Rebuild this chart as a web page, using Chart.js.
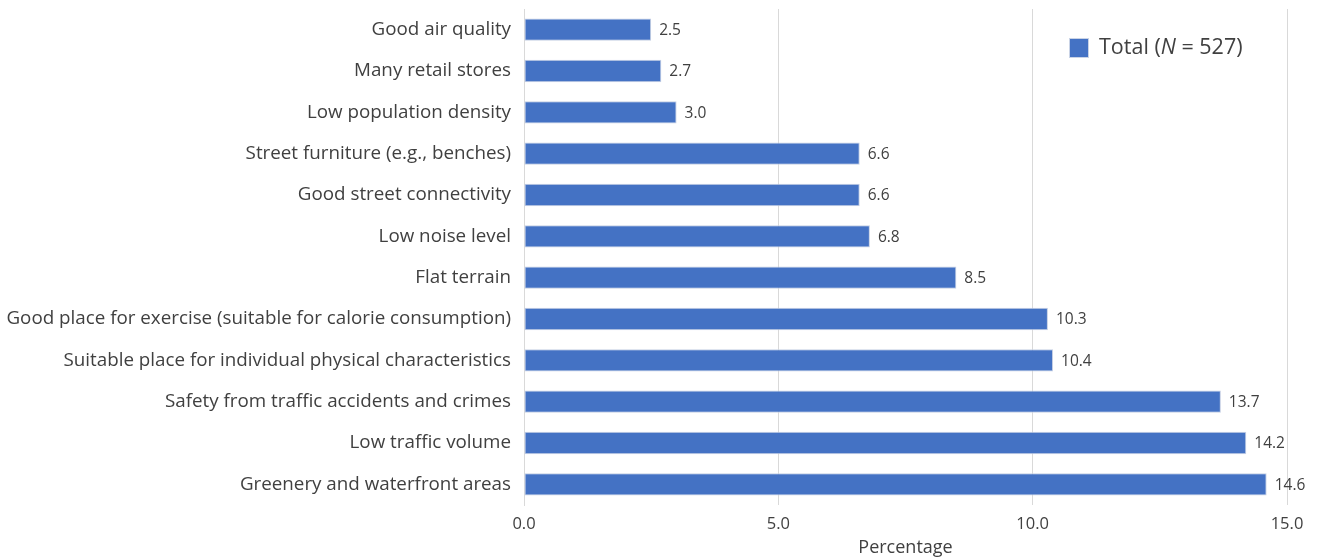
<!DOCTYPE html>
<html>
<head>
<meta charset="utf-8">
<script src="https://cdn.jsdelivr.net/npm/chart.js@4"></script>
<style>
  html, body { margin: 0; padding: 0; background: #fff; }
  #wrap { width: 1317px; height: 559px; }
</style>
</head>
<body>
<div id="wrap"><canvas id="myChart"></canvas></div>
<script>
const categories = [
  "Good air quality",
  "Many retail stores",
  "Low population density",
  "Street furniture (e.g., benches)",
  "Good street connectivity",
  "Low noise level",
  "Flat terrain",
  "Good place for exercise (suitable for calorie consumption)",
  "Suitable place for individual physical characteristics",
  "Safety from traffic accidents and crimes",
  "Low traffic volume",
  "Greenery and waterfront areas"
];
const totalValues = [2.5, 2.7, 3.0, 6.6, 6.6, 6.8, 8.5, 10.3, 10.4, 13.7, 14.2, 14.6];
const xTicks = [0, 5, 10, 15];

const FONT = "'Open Sans', sans-serif";
const TEXT = "#404040";

// value labels + legend (N in italics)
const labelsPlugin = {
  id: "valueLabels",
  afterDatasetsDraw(chart) {
    const ctx = chart.ctx;
    const meta = chart.getDatasetMeta(0);
    ctx.save();
    ctx.font = "15.5px " + FONT;
    ctx.fillStyle = TEXT;
    ctx.textBaseline = "middle";
    ctx.textAlign = "left";
    meta.data.forEach((bar, i) => {
      ctx.fillText(totalValues[i].toFixed(1), bar.x + 8, bar.y + 1);
    });

    // legend
    const lx = 1069, ly = 38;
    ctx.fillStyle = "#4472C4";
    ctx.fillRect(lx, ly, 20, 20);
    ctx.strokeStyle = "#c9d3e6";
    ctx.lineWidth = 1;
    ctx.strokeRect(lx + 0.5, ly + 0.5, 19, 19);
    ctx.fillStyle = TEXT;
    let tx = lx + 30;
    const ty = ly + 10;
    const parts = [["Total (", ""], ["N", "italic "], [" = 527)", ""]];
    parts.forEach(p => {
      ctx.font = p[1] + "21.5px " + FONT;
      ctx.fillText(p[0], tx, ty);
      tx += ctx.measureText(p[0]).width;
    });
    ctx.restore();
  }
};

new Chart(document.getElementById("myChart"), {
  type: "bar",
  data: {
    labels: categories,
    datasets: [{
      label: "Total (N = 527)",
      data: totalValues,
      backgroundColor: "#4472C4",
      borderColor: "#c5cfe3",
      borderWidth: 1,
      borderSkipped: false,
      categoryPercentage: 1,
      barPercentage: 0.54
    }]
  },
  options: {
    indexAxis: "y",
    responsive: true,
    maintainAspectRatio: false,
    animation: false,
    layout: { padding: { top: 9, right: 30, left: 0, bottom: 0 } },
    plugins: {
      legend: { display: false },
      tooltip: { enabled: false }
    },
    scales: {
      x: {
        min: 0,
        max: 15,
        afterBuildTicks: (axis) => { axis.ticks = xTicks.map(v => ({ value: v })); },
        afterFit: (axis) => { axis.height = 54; },
        grid: { color: "#d9d9d9", drawTicks: false },
        border: { display: false },
        ticks: {
          padding: 9,
          color: TEXT,
          font: { family: FONT, size: 16.5 },
          callback: (v) => Number(v).toFixed(1)
        },
        title: {
          display: true,
          text: "Percentage",
          color: TEXT,
          font: { family: FONT, size: 18 },
          padding: { top: 0, bottom: 0 }
        }
      },
      y: {
        afterFit: (axis) => {
          axis.width = 524;
          axis.paddingTop = 0;
          axis.paddingBottom = 0;
        },
        grid: { display: false, drawTicks: false },
        border: { display: true, color: "#d9d9d9" },
        ticks: {
          padding: 13,
          color: TEXT,
          font: { family: FONT, size: 18.8 }
        }
      }
    }
  },
  plugins: [labelsPlugin]
});
</script>
</body>
</html>
